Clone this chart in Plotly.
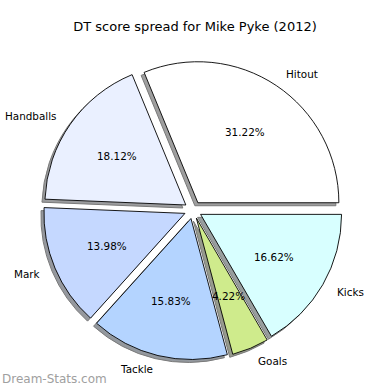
import math
import plotly.graph_objects as go

# ---- data ----
categories = ["Hitout", "Handballs", "Mark", "Tackle", "Goals", "Kicks"]
percent_values = [31.22, 18.12, 13.98, 15.83, 4.22, 16.62]
slice_colors = ["#ffffff", "#eaf0ff", "#c5d8ff", "#b4d4ff", "#cfeb8c", "#d8ffff"]
title_text = "DT score spread for Mike Pyke (2012)"
watermark_text = "Dream-Stats.com"

# ---- geometry (pixels) ----
W = H = 390
cx, cy = 193.0, 210.0
radius = 141.0
pull = 0.062
shadow_dx, shadow_dy = -3.0, 3.0
label_dist = 1.1
pct_dist = 0.6

half_box = radius * (1 + pull)
total = sum(percent_values)
# first wedge starts at 3 o'clock and runs counterclockwise (matplotlib style);
# plotly places the END of the first ccw slice at `rotation` (clockwise from 12)
rotation = 90 - 360 * percent_values[0] / total


def domain(dx=0.0, dy=0.0):
    x0 = (cx + dx - half_box) / W
    x1 = (cx + dx + half_box) / W
    y0 = 1 - (cy + dy + half_box) / H
    y1 = 1 - (cy + dy - half_box) / H
    return dict(x=[x0, x1], y=[y0, y1])


def shade(hexcol):
    r = int(hexcol[1:3], 16) / 255
    g = int(hexcol[3:5], 16) / 255
    b = int(hexcol[5:7], 16) / 255
    f = lambda c: int(round((0.15 * c + 0.47) * 255))
    return "#%02x%02x%02x" % (f(r), f(g), f(b))


shadow_colors = [shade(c) for c in slice_colors]

fig = go.Figure()

# shadow
fig.add_trace(go.Pie(
    labels=categories, values=percent_values, sort=False,
    direction="counterclockwise", rotation=rotation,
    pull=[pull] * len(categories),
    marker=dict(colors=shadow_colors, line=dict(color="#7a7a7a", width=1)),
    textinfo="none", hoverinfo="skip", showlegend=False,
    domain=domain(shadow_dx, shadow_dy),
))

# main pie
fig.add_trace(go.Pie(
    labels=categories, values=percent_values, sort=False,
    direction="counterclockwise", rotation=rotation,
    pull=[pull] * len(categories),
    marker=dict(colors=slice_colors, line=dict(color="#000000", width=0.9)),
    textinfo="none", hoverinfo="label+percent", showlegend=False,
    domain=domain(),
))

# labels & percentages (matplotlib-style positions derived from the data)
start = 0.0
annotations = []
font = dict(family="DejaVu Sans", size=10.4, color="#000000")
for name, v in zip(categories, percent_values):
    frac = v / total
    mid = math.radians((start + frac / 2) * 360)
    start += frac
    ex = cx + pull * radius * math.cos(mid)
    ey = cy - pull * radius * math.sin(mid)
    lx = ex + label_dist * radius * math.cos(mid)
    ly = ey - label_dist * radius * math.sin(mid)
    px = ex + pct_dist * radius * math.cos(mid)
    py = ey - pct_dist * radius * math.sin(mid)
    annotations.append(dict(
        x=lx / W, y=1 - ly / H, xref="paper", yref="paper",
        text=name, showarrow=False, font=font,
        xanchor="left" if math.cos(mid) > 0 else "right", yanchor="middle",
    ))
    annotations.append(dict(
        x=px / W, y=1 - py / H, xref="paper", yref="paper",
        text="%.2f%%" % (frac * 100), showarrow=False, font=font,
        xanchor="center", yanchor="middle",
    ))

annotations.append(dict(
    x=0, y=1 - 379 / H, xref="paper", yref="paper", text=watermark_text,
    showarrow=False, xanchor="left", yanchor="middle",
    font=dict(family="DejaVu Sans", size=12, color="#a0a0a0"),
))

fig.update_layout(
    width=W, height=H,
    margin=dict(l=0, r=0, t=0, b=0),
    paper_bgcolor="#ffffff", plot_bgcolor="#ffffff",
    title=dict(text=title_text, x=0.5, xanchor="center", y=1 - 26 / H,
               yanchor="middle",
               font=dict(family="DejaVu Sans", size=13, color="#000000")),
    annotations=annotations,
    showlegend=False,
)

fig.write_html(
    "out.html",
    config={"displayModeBar": False},
    post_script="document.body.style.margin='0px';document.body.style.padding='0px';",
)
